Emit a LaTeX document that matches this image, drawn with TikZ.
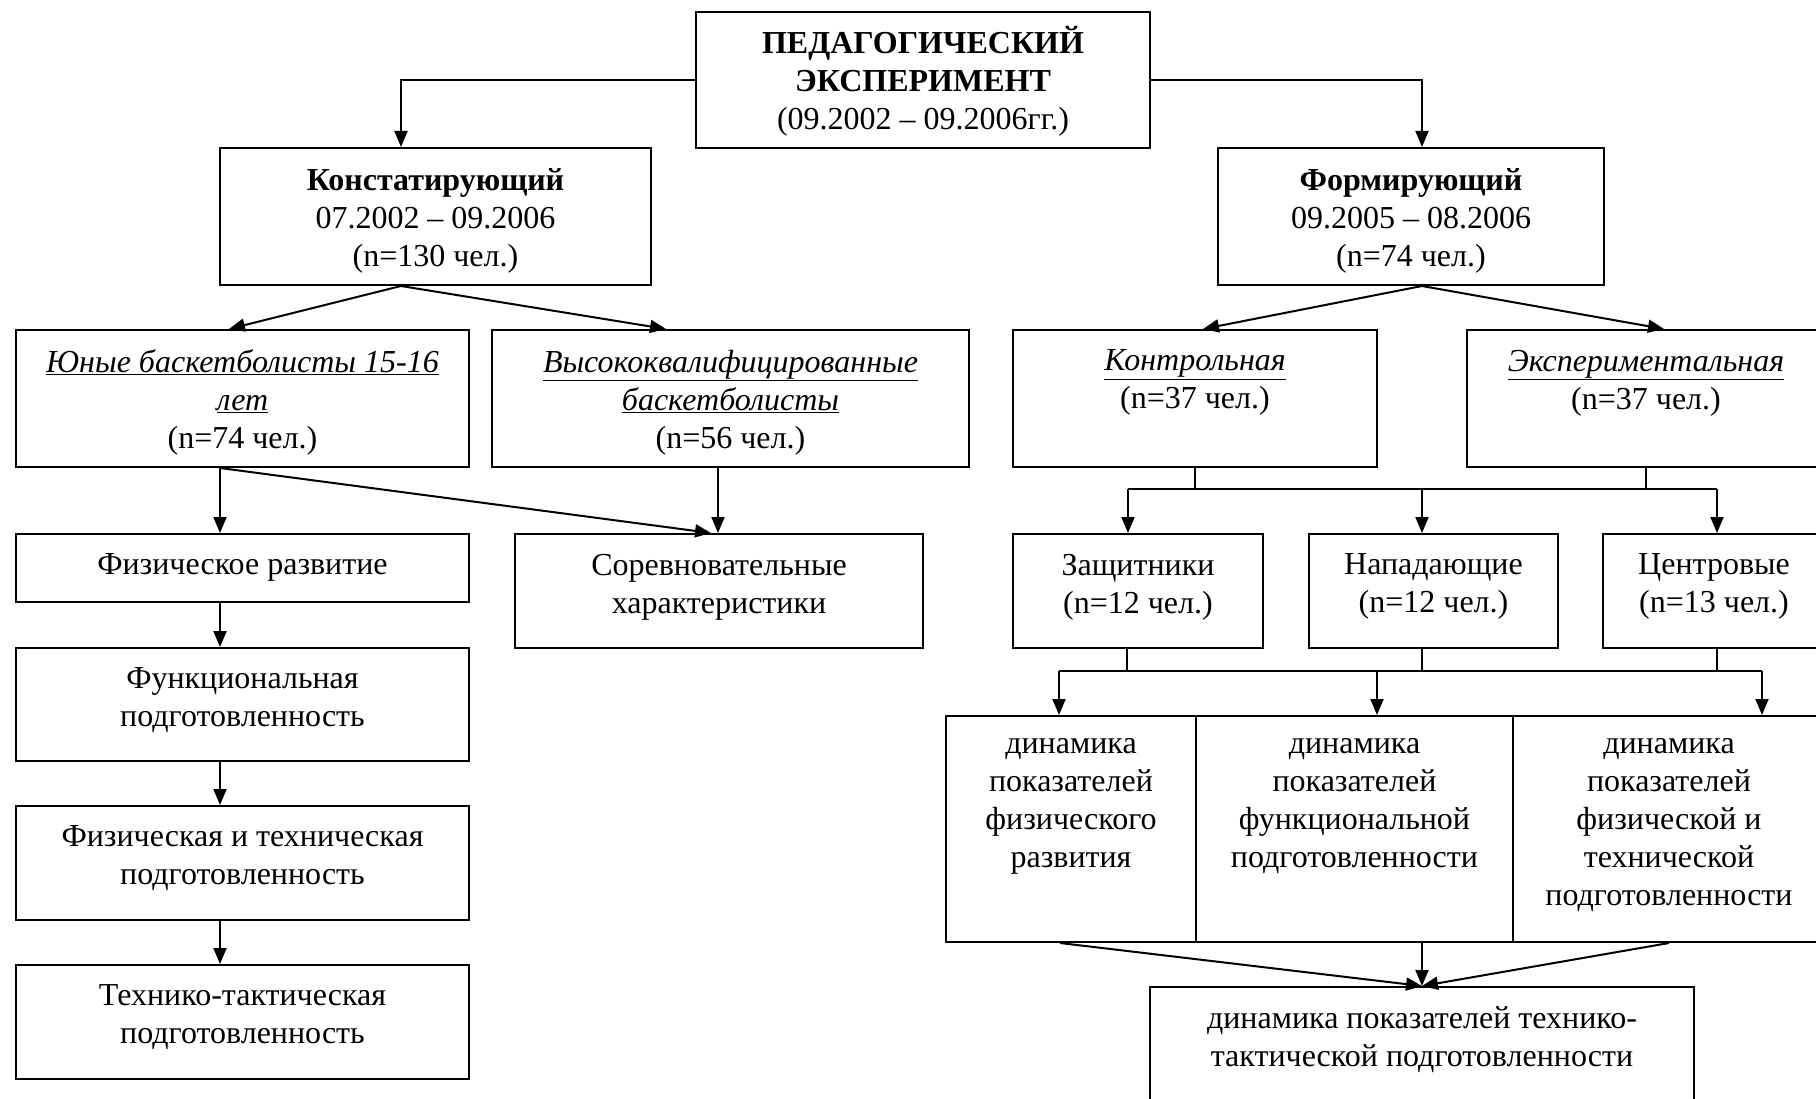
\documentclass[tikz,border=0pt]{standalone}
\usepackage{fontspec}
\setmainfont{Liberation Serif}
\usetikzlibrary{arrows.meta}
\tikzset{>={Triangle[length=16pt,width=13pt]},
  box/.style={draw, line width=2pt, inner sep=0pt},
  txt/.style={anchor=north, align=center, inner sep=0pt, font=\fontsize{32}{38}\selectfont},
  every path/.style={line width=2pt}}
\newcommand{\blok}[7][20]{%
  \node[box, minimum width=#5pt, minimum height=#6pt] (#2) at (#3,#4) {};
  \node[txt] (#2t) at ([yshift=-#1pt]#2.north) {#7};}

\begin{document}
\begin{tikzpicture}[x=1pt, y=-1pt]
\useasboundingbox (0,0) rectangle (1816,1099);
% experiment
\blok[14]{top}{923}{80}{454}{136}{\textbf{ПЕДАГОГИЧЕСКИЙ}\\\textbf{ЭКСПЕРИМЕНТ}\\(09.2002 – 09.2006гг.)}
\blok{konst}{435.5}{216.5}{431}{137}{\textbf{Констатирующий}\\07.2002 – 09.2006\\(n=130 чел.)}
\blok{form}{1411}{216.5}{386}{137}{\textbf{Формирующий}\\09.2005 – 08.2006\\(n=74 чел.)}
% groups
\blok{yun}{242.5}{398.5}{453}{137}{\underline{\textit{Юные баскетболисты 15-16}}\\\underline{\textit{лет}}\\(n=74 чел.)}
\blok{vys}{730.5}{398.5}{477}{137}{\underline{\textit{Высококвалифицированные}}\\\underline{\textit{баскетболисты}}\\(n=56 чел.)}
\blok{kontr}{1195}{398.5}{364}{137}{\underline{\textit{Контрольная}}\\(n=37 чел.)}
\blok{eksp}{1646}{398.5}{358}{137}{\underline{\textit{Экспериментальная}}\\(n=37 чел.)}
% left column
\blok{fizr}{242.5}{568}{453}{68}{Физическое развитие}
\blok{sorev}{719}{591}{408}{114}{Соревновательные\\характеристики}
\blok{funk}{242.5}{704.5}{453}{113}{Функциональная\\подготовленность}
\blok{fiztech}{242.5}{863}{453}{114}{Физическая и техническая\\подготовленность}
\blok{takt}{242.5}{1022}{453}{114}{Технико-тактическая\\подготовленность}
% players
\blok{zash}{1138}{591}{250}{114}{Защитники\\(n=12 чел.)}
\blok{napad}{1433.5}{591}{249}{114}{Нападающие\\(n=12 чел.)}
\blok{centr}{1714}{591}{222}{114}{Центровые\\(n=13 чел.)}
% dynamics
\blok[22]{d1}{1071}{829}{250}{226}{динамика\\показателей\\физического\\развития}
\blok[22]{d2}{1354.5}{829}{317}{226}{динамика\\показателей\\функциональной\\подготовленности}
\blok[22]{d3}{1669}{829}{312}{226}{динамика\\показателей\\физической и\\технической\\подготовленности}
\blok{fin}{1422}{1048.5}{544}{123}{динамика показателей технико-\\тактической подготовленности}

% connectors
\draw[->] (top.west) -| ([xshift=-34.5pt]konst.north);
\draw[->] (top.east) -| ([xshift=11pt]form.north);
\draw[->] ([xshift=-34.5pt]konst.south) -- ([xshift=-13.5pt]yun.north);
\draw[->] ([xshift=-34.5pt]konst.south) -- ([xshift=-64.5pt]vys.north);
\draw[->] ([xshift=11pt]form.south) -- ([xshift=8pt]kontr.north);
\draw[->] ([xshift=11pt]form.south) -- ([xshift=18pt]eksp.north);
\draw[->] ([xshift=-22.5pt]yun.south) -- ([xshift=-22.5pt]fizr.north);
\draw[->] ([xshift=-22.5pt]yun.south) -- ([xshift=-8pt]sorev.north);
\draw[->] ([xshift=-12.5pt]vys.south) -- ([xshift=-1pt]sorev.north);
\draw[->] ([xshift=-22.5pt]fizr.south) -- ([xshift=-22.5pt]funk.north);
\draw[->] ([xshift=-22.5pt]funk.south) -- ([xshift=-22.5pt]fiztech.north);
\draw[->] ([xshift=-22.5pt]fiztech.south) -- ([xshift=-22.5pt]takt.north);
% bus to players
\coordinate (b1l) at (1128,489);
\coordinate (b1m) at (1422,489);
\coordinate (b1r) at (1717,489);
\draw (b1l) -- (b1r);
\draw (kontr.south) -- (kontr.south |- b1l);
\draw (eksp.south) -- (eksp.south |- b1l);
\draw[->] (b1l) -- (b1l |- zash.north);
\draw[->] (b1m) -- (b1m |- napad.north);
\draw[->] (b1r) -- (b1r |- centr.north);
% bus to dynamics
\coordinate (b2l) at (1059,671);
\coordinate (b2m) at (1377,671);
\coordinate (b2r) at (1762,671);
\draw (b2l) -- (b2r);
\draw ([xshift=-11pt]zash.south) -- ([xshift=-11pt]zash.south |- b2l);
\draw ([xshift=-11.5pt]napad.south) -- ([xshift=-11.5pt]napad.south |- b2l);
\draw ([xshift=3pt]centr.south) -- ([xshift=3pt]centr.south |- b2l);
\draw[->] (b2l) -- (b2l |- d1.north);
\draw[->] (b2m) -- (b2m |- d2.north);
\draw[->] (b2r) -- (b2r |- d3.north);
\draw[->] ([xshift=-11pt]d1.south) -- (fin.north);
\draw[->] (fin.north |- d2.south) -- (fin.north);
\draw[->] (d3.south) -- (fin.north);
\end{tikzpicture}
\end{document}
